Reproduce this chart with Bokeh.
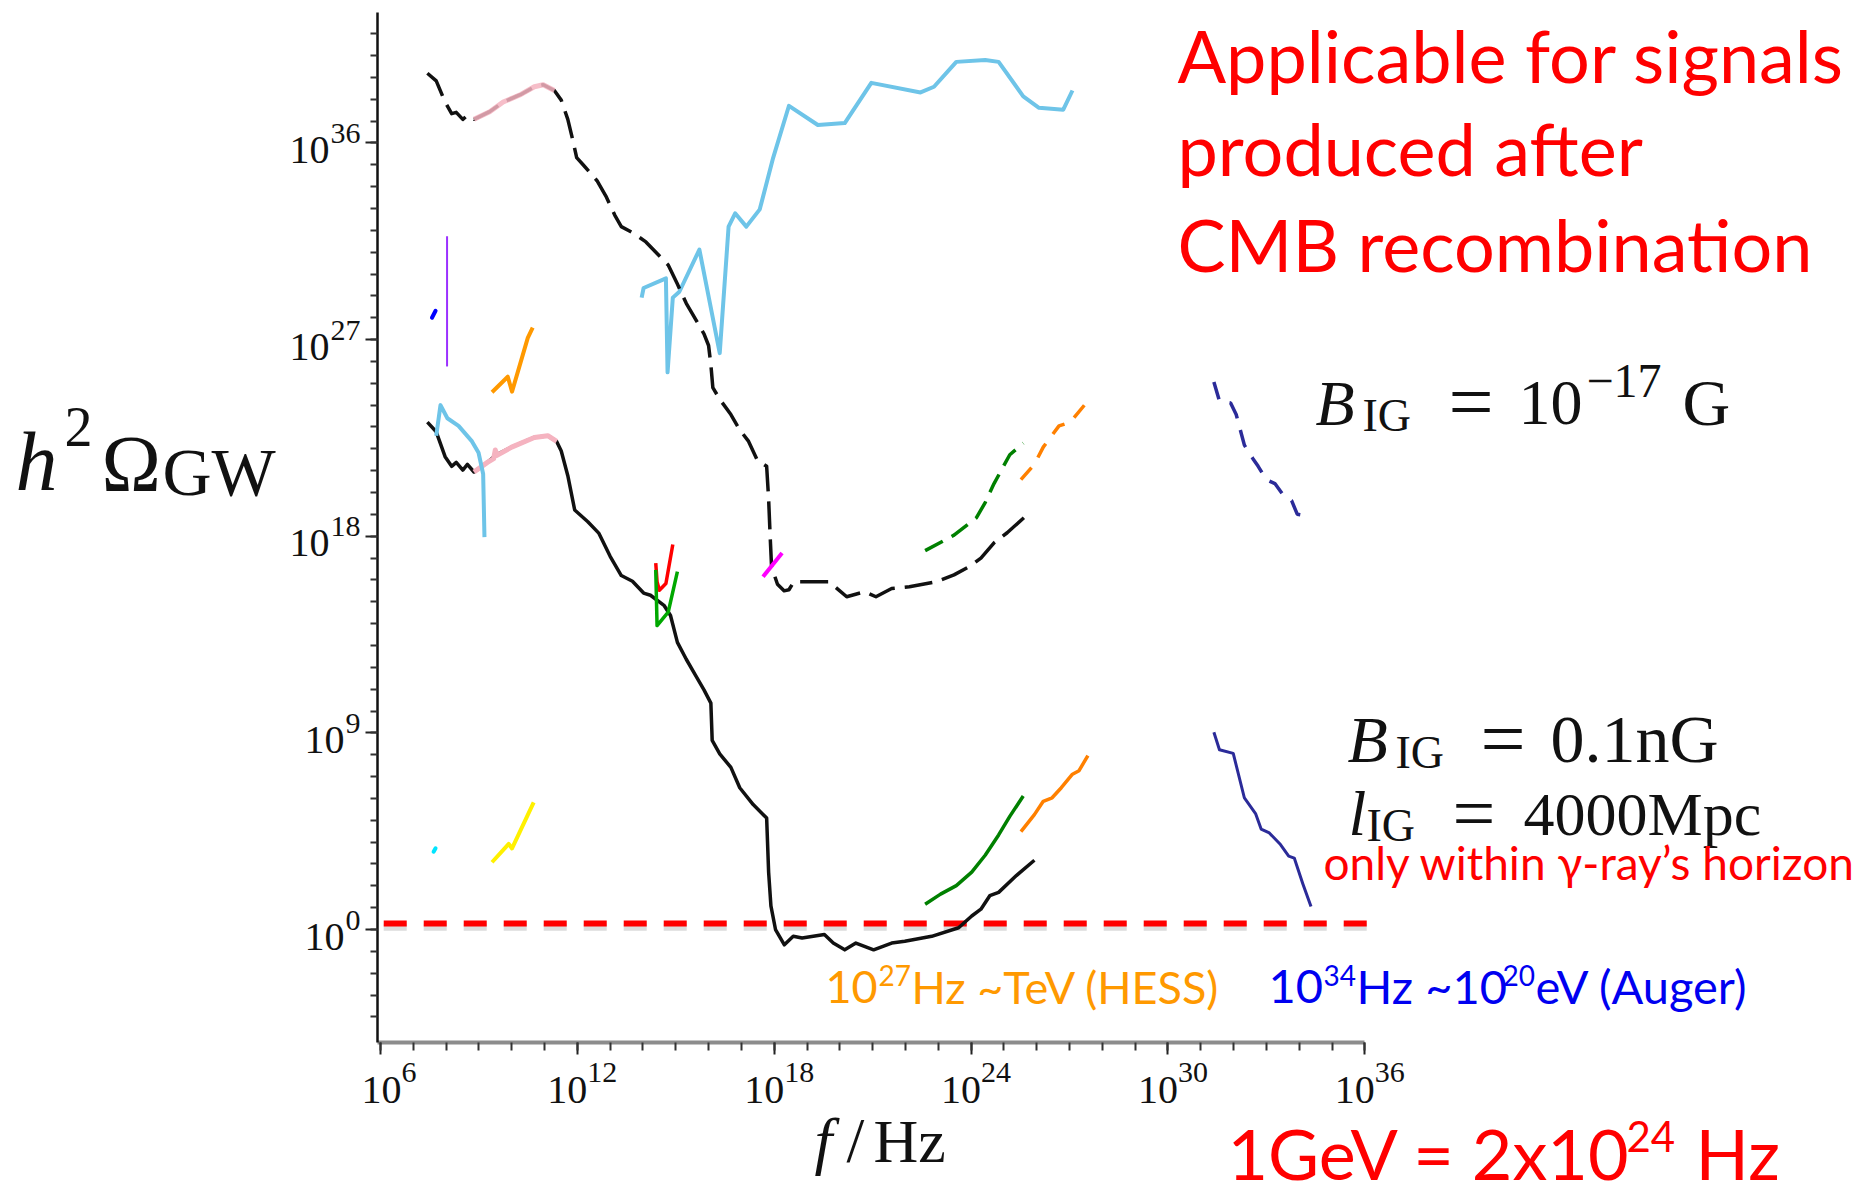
import numpy as np
from bokeh.plotting import figure
from bokeh.models import Range1d, FixedTicker, Label, CustomJSTickFormatter
from bokeh.embed import file_html
from bokeh.resources import INLINE

# ---------------- data (log10 of frequency [Hz], log10 of h^2 Omega_GW) ----------------
# B_IG = 1e-17 G  (black dashed)
dash_lf = [7.43, 7.70, 7.97, 8.17, 8.31, 8.51, 8.65, 8.85, 9.33, 9.74, 10.28, 10.69, 10.96, 11.30,
           11.51, 11.71, 11.85, 11.98, 12.19, 12.60, 12.87, 13.14, 13.34, 13.68, 14.09, 14.43, 14.77,
           15.05, 15.32, 15.66, 15.86, 16.00, 16.07, 16.13, 16.34, 16.68, 16.95, 17.22, 17.49, 17.77,
           17.83, 17.88, 17.92, 18.10, 18.30, 18.45, 18.60, 19.26, 19.67, 20.21, 20.76, 21.10, 21.58,
           22.12, 22.94, 23.48, 23.96, 24.30, 24.70, 25.10, 25.79]
dash_lo = [39.19, 38.84, 37.87, 37.34, 37.40, 37.08, 37.26, 37.08, 37.43, 37.87, 38.22, 38.57, 38.66, 38.40,
           37.96, 37.08, 36.20, 35.33, 34.98, 34.27, 33.57, 32.70, 32.17, 31.90, 31.47, 30.94, 30.41,
           29.54, 28.66, 27.78, 27.26, 26.73, 25.85, 24.80, 24.27, 23.57, 22.87, 22.34, 21.47, 21.20,
           19.71, 17.90, 16.60, 15.80, 15.50, 15.55, 15.92, 15.92, 15.92, 15.23, 15.46, 15.23, 15.61,
           15.69, 15.92, 16.23, 16.62, 17.00, 17.70, 18.16, 19.09]

# B_IG = 0.1 nG (black solid)
solid_lf = [7.43, 7.70, 7.97, 8.17, 8.31, 8.51, 8.65, 8.85, 9.26, 9.53, 10.00, 10.69, 11.10, 11.37,
            11.51, 11.71, 11.92, 12.32, 12.66, 13.00, 13.34, 13.68, 14.02, 14.23, 14.64, 14.84, 15.05,
            15.32, 15.59, 15.86, 16.07, 16.11, 16.34, 16.68, 16.95, 17.36, 17.77, 17.83, 17.90, 18.04,
            18.31, 18.58, 18.85, 19.53, 19.80, 20.15, 20.49, 21.03, 21.58, 21.98, 22.80, 23.62, 24.02,
            24.30, 24.57, 24.84, 25.38, 25.93]
solid_lo = [23.22, 22.78, 21.64, 21.20, 21.38, 21.03, 21.29, 20.94, 21.38, 21.73, 22.08, 22.52, 22.60, 22.34,
            21.90, 20.77, 19.20, 18.66, 18.13, 17.08, 16.20, 15.94, 15.40, 15.30, 14.84, 14.37, 13.14,
            12.37, 11.67, 10.97, 10.36, 8.66, 8.04, 7.42, 6.49, 5.72, 5.10, 2.63, 1.08, 0.00,
            -0.70, -0.31, -0.39, -0.23, -0.62, -0.93, -0.62, -0.93, -0.62, -0.54, -0.31, 0.08, 0.62,
            0.93, 1.55, 1.70, 2.47, 3.17]

pink_up_lf = [8.85, 9.33, 9.74, 10.28, 10.69, 10.96, 11.30]
pink_up_lo = [37.08, 37.43, 37.87, 38.22, 38.57, 38.66, 38.40]
pink_lo_lf = [8.85, 9.26, 9.45, 9.50, 9.55, 10.00, 10.69, 11.10, 11.37]
pink_lo_lo = [20.94, 21.38, 21.55, 21.95, 21.70, 22.08, 22.52, 22.60, 22.34]

cyan_up_lf = [13.96, 14.02, 14.70, 14.75, 14.91, 15.11, 15.72, 16.34, 16.61, 16.81, 17.15, 17.56, 17.97,
              18.45, 19.33, 20.15, 20.96, 22.46, 22.87, 23.55, 24.43, 24.84, 25.59, 26.07, 26.81, 27.09]
cyan_up_lo = [28.92, 29.36, 29.80, 25.50, 28.92, 29.19, 31.12, 26.38, 32.17, 32.78, 32.17, 32.96, 35.33,
              37.70, 36.82, 36.91, 38.75, 38.31, 38.57, 39.71, 39.80, 39.71, 38.13, 37.61, 37.52, 38.40]
cyan_lo_lf = [7.70, 7.83, 8.04, 8.38, 8.79, 8.99, 9.13, 9.17]
cyan_lo_lo = [22.60, 24.00, 23.40, 23.05, 22.34, 21.82, 20.85, 17.96]

purple_lf = [8.03, 8.03]
purple_lo = [25.77, 31.73]
blue_lf = [7.57, 7.68]
blue_lo = [28.00, 28.32]
aqua_lf = [7.62, 7.68]
aqua_lo = [3.56, 3.72]

orange_up_lf = [9.40, 9.88, 10.01, 10.49, 10.64]
orange_up_lo = [24.59, 25.30, 24.62, 27.08, 27.55]
yellow_lf = [9.40, 9.91, 10.01, 10.67]
yellow_lo = [3.08, 3.92, 3.71, 5.82]

red_lf = [14.39, 14.43, 14.50, 14.70, 14.91]
red_lo = [16.77, 15.92, 15.53, 15.84, 17.62]
green14_lf = [14.39, 14.43, 14.77, 15.05]
green14_lo = [16.46, 13.91, 14.53, 16.38]
magenta_lf = [17.66, 18.24]
magenta_lo = [16.15, 17.23]

green_up_lf = [22.60, 23.48, 24.16, 24.43, 24.70, 25.18, 25.59]
green_up_lo = [17.34, 18.05, 18.84, 19.54, 20.41, 21.73, 22.26]
orange2_up_lf = [25.52, 25.93, 26.20, 26.68, 27.02, 27.56]
orange2_up_lo = [20.59, 21.29, 22.08, 23.05, 23.22, 24.19]
green_lo_lf = [22.60, 23.07, 23.55, 24.02, 24.43, 24.84, 25.18, 25.59]
green_lo_lo = [1.16, 1.62, 2.01, 2.63, 3.40, 4.33, 5.18, 6.11]
orange2_lo_lf = [25.52, 25.93, 26.20, 26.47, 26.75, 27.09, 27.29, 27.56]
orange2_lo_lo = [4.48, 5.26, 5.87, 6.03, 6.49, 7.11, 7.27, 7.96]

navy_up_lf = [31.40, 31.57, 31.91, 32.08, 32.33, 32.59, 32.75, 33.00, 33.26, 33.51, 33.77, 33.94, 34.28]
navy_up_lo = [25.06, 24.19, 24.10, 23.57, 22.17, 21.55, 21.20, 20.59, 20.41, 19.89, 19.63, 19.01, 18.92]
navy_lo_lf = [31.40, 31.57, 31.99, 32.33, 32.67, 32.84, 33.09, 33.43, 33.68, 33.85, 34.11, 34.36]
navy_lo_lo = [9.03, 8.23, 8.06, 6.02, 5.31, 4.60, 4.42, 3.89, 3.36, 3.27, 2.10, 1.05]

bound_lf = [6.10, 36.50]
bound_lo = [0.28, 0.28]

x_tick_exps = [6, 12, 18, 24, 30, 36]
y_tick_exps = [0, 9, 18, 27, 36]

def P(a):
    return [10.0 ** v for v in a]

# ---------------- geometry ----------------
W, H = 1866, 1194
AX_X0, AX_X1 = 5.91, 36.0      # x axis extent (log10)
AX_Y0, AX_Y1 = -5.17, 41.97    # y axis extent (log10)
PX_X0, PX_Y0 = 377.0, 1042.0   # page px of the axes corner
XPD, YPD = 32.812, 21.85       # px per decade

def lgx(px):
    return AX_X0 + (px - PX_X0) / XPD

def lgy(py):
    return AX_Y0 + (PX_Y0 - py) / YPD

p = figure(width=W, height=H, x_axis_type="log", y_axis_type="log",
           x_range=Range1d(10 ** lgx(0), 10 ** lgx(W)), y_range=Range1d(10 ** lgy(H), 10 ** lgy(0)),
           output_backend="svg", toolbar_location=None,
           min_border_left=0, min_border_right=0, min_border_top=0, min_border_bottom=0)
p.outline_line_color = None
p.xgrid.grid_line_color = None
p.ygrid.grid_line_color = None
p.background_fill_color = "white"
p.border_fill_color = "white"

p.xaxis.fixed_location = 10 ** AX_Y0
p.yaxis.fixed_location = 10 ** AX_X0
p.xaxis.bounds = (10 ** AX_X0, 10 ** AX_X1)
p.yaxis.bounds = (10 ** AX_Y0, 10 ** AX_Y1)
p.xaxis.ticker = FixedTicker(ticks=[10.0 ** e for e in x_tick_exps],
                             minor_ticks=[10.0 ** e for e in range(6, 37)])
p.yaxis.ticker = FixedTicker(ticks=[10.0 ** e for e in y_tick_exps],
                             minor_ticks=[10.0 ** e for e in range(-4, 42)])
p.xaxis.formatter = CustomJSTickFormatter(code="return ''")
p.yaxis.formatter = CustomJSTickFormatter(code="return ''")
p.xaxis.axis_line_color = "#8c8c8c"
p.xaxis.axis_line_width = 4
p.yaxis.axis_line_color = "#111111"
p.yaxis.axis_line_width = 2.5
for ax in (p.xaxis, p.yaxis):
    ax.major_tick_in = 0
    ax.minor_tick_in = 0
    ax.major_tick_line_color = "#222222"
    ax.minor_tick_line_color = "#333333"
    ax.major_tick_line_width = 2
    ax.minor_tick_line_width = 2
p.xaxis.major_tick_out = 12
p.xaxis.minor_tick_out = 8
p.yaxis.major_tick_out = 12
p.yaxis.minor_tick_out = 7

# ---------------- curves ----------------
p.line(P(bound_lf), P([v - 0.17 for v in bound_lo]), line_color="#9a9a9a", line_alpha=0.35,
       line_width=7, line_dash="23 17")
p.line(P(bound_lf), P(bound_lo), line_color="#FF0000", line_width=6, line_dash="23 17")

p.line(P(cyan_up_lf), P(cyan_up_lo), line_color="#6EC4E8", line_width=4, line_join="round")
p.line(P(dash_lf), P(dash_lo), line_color="#111111", line_width=3.5, line_dash="28 10", line_join="round")
p.line(P(pink_up_lf), P(pink_up_lo), line_color="#F5B3C0", line_width=5, line_alpha=0.85,
       line_join="round")

p.line(P(solid_lf), P(solid_lo), line_color="#111111", line_width=3.5, line_join="round")
p.line(P(pink_lo_lf), P(pink_lo_lo), line_color="#F5B3C0", line_width=5, line_join="round")
p.line(P(cyan_lo_lf), P(cyan_lo_lo), line_color="#6EC4E8", line_width=4, line_join="round")

p.line(P(purple_lf), P(purple_lo), line_color="#9B30FF", line_width=2)
p.line(P(blue_lf), P(blue_lo), line_color="#0000FF", line_width=4, line_cap="round")
p.line(P(aqua_lf), P(aqua_lo), line_color="#00E5FF", line_width=4, line_cap="round")
p.line(P(orange_up_lf), P(orange_up_lo), line_color="#FF9900", line_width=4, line_join="round")
p.line(P(yellow_lf), P(yellow_lo), line_color="#FFF000", line_width=4, line_join="round")
p.line(P(red_lf), P(red_lo), line_color="#FF0000", line_width=3.5, line_join="round")
p.line(P(green14_lf), P(green14_lo), line_color="#00A800", line_width=3.5, line_join="round")
p.line(P(magenta_lf), P(magenta_lo), line_color="#FF00FF", line_width=4)

p.line(P(green_up_lf), P(green_up_lo), line_color="#008000", line_width=3.5, line_dash="20 10")
p.line(P(orange2_up_lf), P(orange2_up_lo), line_color="#FF8000", line_width=3.5, line_dash="16 12")
p.line(P(green_lo_lf), P(green_lo_lo), line_color="#008000", line_width=3.5, line_join="round")
p.line(P(orange2_lo_lf), P(orange2_lo_lo), line_color="#FF8000", line_width=3.5, line_join="round")

p.line(P(navy_up_lf), P(navy_up_lo), line_color="#2B2B99", line_width=3.5, line_dash="18 12")
p.line(P(navy_lo_lf), P(navy_lo_lo), line_color="#2B2B99", line_width=3, line_join="round")

# ---------------- texts ----------------
def lab(text, px, base, size, color="#111111", font="Liberation Serif", style="normal", align="left"):
    k = 0.37 if font == "Lato" else 0.35
    py = base - k * size
    p.add_layout(Label(x=10 ** lgx(px), y=10 ** lgy(py), x_units="data", y_units="data", text=text,
                       text_font=font, text_font_size=f"{size}px", text_color=color,
                       text_font_style=style, text_align=align, text_baseline="alphabetic"))

# tick labels
for e in x_tick_exps:
    tx = PX_X0 + (e - AX_X0) * XPD
    es = str(e)
    bl = tx - (19 if len(es) == 1 else 30)
    lab("10", bl, 1103, 40)
    lab(es, bl + 40, 1082, 30)
for e in y_tick_exps:
    ty = PX_Y0 - (e - AX_Y0) * YPD
    es = str(e)
    lab(es, 360, ty + 1, 30, align="right")
    lab("10", 360 - 15 * len(es) - 1, ty + 21, 40, align="right")

# axis titles
lab("h", 15, 490, 84, style="italic")
lab("2", 64, 446, 56)
lab("Ω", 101, 491, 80)
lab("GW", 162, 495, 68)
lab("f", 814, 1162, 64, style="italic")
lab("/", 846, 1162, 64)
lab("Hz", 873, 1162, 62)

# field labels
lab("B", 1315, 425, 64, style="italic")
lab("IG", 1362, 431, 46)
lab("=", 1448, 429, 80)
lab("10", 1518, 425, 64)
lab("−17", 1586, 397, 48)
lab("G", 1682, 425, 66)

lab("B", 1347, 762, 66, style="italic")
lab("IG", 1395, 768, 46)
lab("=", 1480, 766, 80)
lab("0.1nG", 1550, 762, 68)

lab("l", 1348, 835, 64, style="italic")
lab("IG", 1366, 841, 46)
lab("=", 1452, 839, 76)
lab("4000Mpc", 1523, 835, 62)

RED = "#FF0000"
lab("Applicable for signals", 1177, 81, 72, RED, "Lato")
lab("produced after", 1177, 174, 72, RED, "Lato")
lab("CMB recombination", 1177, 270, 72, RED, "Lato")
lab("only within γ-ray’s horizon", 1323, 879, 46, RED, "Lato")

ORG = "#FF9900"
lab("10", 825, 1003, 45, ORG, "Lato")
lab("27", 878, 985, 28, ORG, "Lato")
lab("Hz ~TeV (HESS)", 911, 1003, 45, ORG, "Lato")

BLU = "#0000F0"
lab("10", 1268, 1003, 47, BLU, "Lato")
lab("34", 1323, 985, 28, BLU, "Lato")
lab("Hz ~10", 1356, 1003, 47, BLU, "Lato")
lab("20", 1502, 985, 28, BLU, "Lato")
lab("eV (Auger)", 1535, 1003, 47, BLU, "Lato")

lab("1GeV = 2x10", 1227, 1178, 70, RED, "Lato")
lab("24", 1626, 1152, 42, RED, "Lato")
lab("Hz", 1695, 1178, 70, RED, "Lato")

open("out.html", "w").write(file_html(p, INLINE))
